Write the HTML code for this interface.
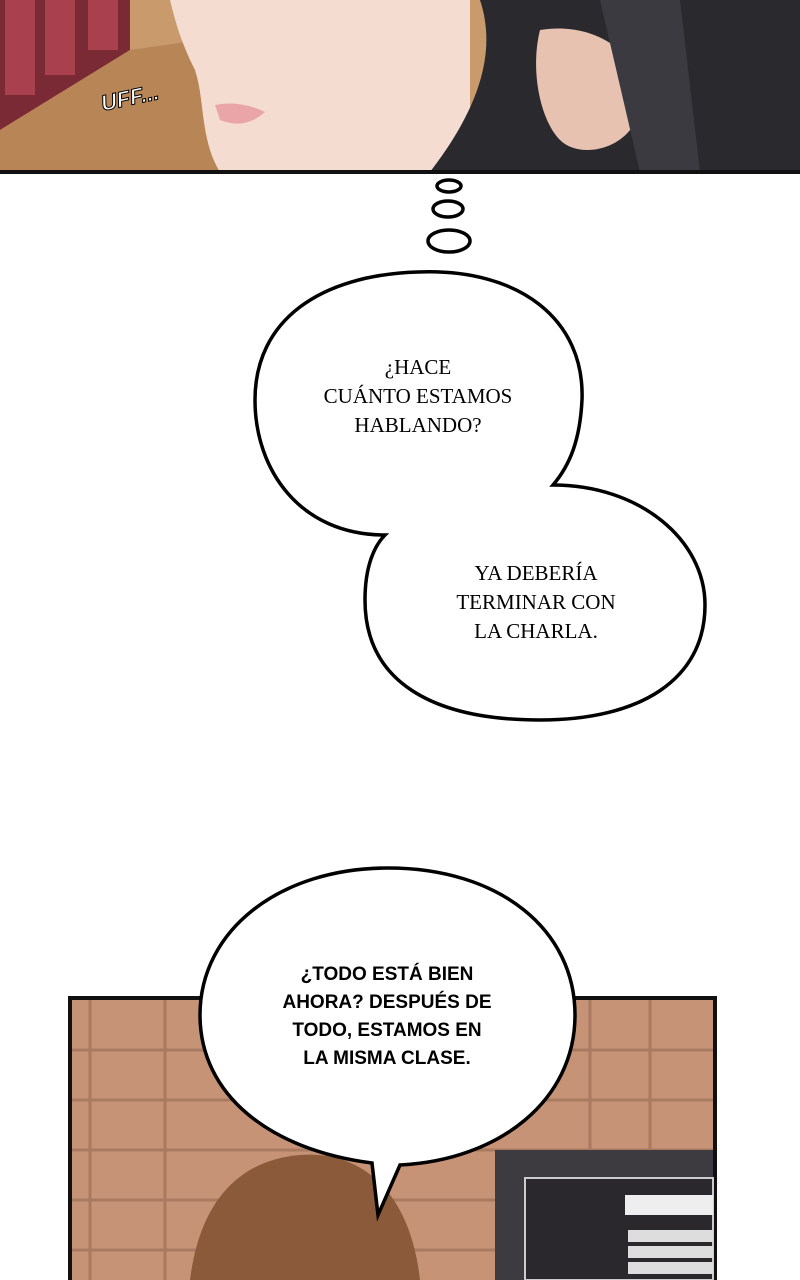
<!DOCTYPE html>
<html><head><meta charset="utf-8"><style>
html,body{margin:0;padding:0;background:#fff;width:800px;height:1280px;overflow:hidden}
svg{display:block}
</style></head><body>
<svg width="800" height="1280" viewBox="0 0 800 1280" xmlns="http://www.w3.org/2000/svg">
<!-- top panel -->
<rect x="0" y="0" width="800" height="172" fill="#c89a6c"/>
<polygon points="0,0 130,0 130,50 0,130" fill="#7a2a35"/>
<rect x="5" y="0" width="30" height="95" fill="#a8404e"/>
<rect x="45" y="0" width="30" height="75" fill="#a8404e"/>
<rect x="88" y="0" width="30" height="50" fill="#a8404e"/>
<polygon points="0,130 130,50 200,40 240,172 0,172" fill="#b88656"/>
<path d="M170,0 L470,0 L470,172 L220,172 C200,140 205,100 195,70 C180,40 175,20 170,0Z" fill="#f5dcd0"/>
<path d="M215,105 Q240,100 265,112 Q245,130 220,120Z" fill="#e9a5a8"/>
<path d="M380,0 L800,0 L800,172 L430,172 C470,120 500,60 480,0Z" fill="#2a2a2e"/>
<path d="M540,30 C600,20 650,60 640,110 C630,150 580,160 560,140 C540,120 530,70 540,30Z" fill="#e8c2b0"/>
<path d="M600,0 L680,0 L700,172 L640,172Z" fill="#3a3a40"/>
<text x="100" y="105" font-family="Liberation Sans, sans-serif" font-weight="bold" font-style="italic" font-size="22" fill="#fff" stroke="#000" stroke-width="1" transform="rotate(-12 130 95)">UFF...</text>
<rect x="0" y="170" width="800" height="4" fill="#111"/>
<!-- thought dots -->
<g fill="#fff" stroke="#000" stroke-width="3.5">
<ellipse cx="449" cy="186" rx="12" ry="6"/>
<ellipse cx="448" cy="209" rx="15" ry="8"/>
<ellipse cx="449" cy="241" rx="21" ry="11"/>
</g>
<!-- big double bubble -->
<path d="M418,272 C520,268 585,320 582,400 C580,440 570,465 553,485 C640,485 705,540 705,605 C705,680 640,720 540,720 C430,720 365,680 365,600 C365,565 375,545 385,535 C300,535 255,470 255,400 C255,320 320,275 418,272Z" fill="#fff" stroke="#000" stroke-width="3.5"/>
<g font-family="Liberation Serif, serif" font-size="21" fill="#000" text-anchor="middle">
<text x="418" y="374">¿HACE</text>
<text x="418" y="403">CUÁNTO ESTAMOS</text>
<text x="418" y="432">HABLANDO?</text>
<text x="536" y="580">YA DEBERÍA</text>
<text x="536" y="609">TERMINAR CON</text>
<text x="536" y="638">LA CHARLA.</text>
</g>
<!-- bottom panel -->
<rect x="70" y="998" width="645" height="290" fill="#c69377" stroke="#111" stroke-width="4"/>
<g stroke="#a87a60" stroke-width="3">
<line x1="72" y1="1050" x2="713" y2="1050"/><line x1="72" y1="1100" x2="713" y2="1100"/>
<line x1="72" y1="1150" x2="713" y2="1150"/><line x1="72" y1="1200" x2="713" y2="1200"/>
<line x1="72" y1="1250" x2="713" y2="1250"/>
<line x1="90" y1="1000" x2="90" y2="1280"/><line x1="165" y1="1000" x2="165" y2="1280"/>
<line x1="590" y1="1000" x2="590" y2="1150"/><line x1="650" y1="1000" x2="650" y2="1150"/>
</g>
<rect x="495" y="1150" width="218" height="130" fill="#3d3a40"/>
<rect x="525" y="1178" width="188" height="102" fill="#2a282c" stroke="#ccc" stroke-width="2"/>
<rect x="625" y="1195" width="88" height="20" fill="#eee"/>
<g fill="#ddd"><rect x="628" y="1230" width="85" height="12"/><rect x="628" y="1246" width="85" height="12"/><rect x="628" y="1262" width="85" height="12"/></g>
<path d="M190,1280 C200,1200 240,1160 300,1155 C360,1150 410,1190 420,1280Z" fill="#8a5a3a"/>
<!-- speech bubble -->
<path d="M388,868 C500,868 575,930 575,1015 C575,1100 500,1160 400,1165 L378,1215 L372,1163 C270,1150 200,1095 200,1015 C200,930 280,868 388,868Z" fill="#fff" stroke="#000" stroke-width="3.5"/>
<g font-family="Liberation Sans, sans-serif" font-weight="bold" font-size="19" fill="#000" text-anchor="middle">
<text x="387" y="980">¿TODO ESTÁ BIEN</text>
<text x="387" y="1008">AHORA? DESPUÉS DE</text>
<text x="387" y="1036">TODO, ESTAMOS EN</text>
<text x="387" y="1064">LA MISMA CLASE.</text>
</g>
</svg>
</body></html>
